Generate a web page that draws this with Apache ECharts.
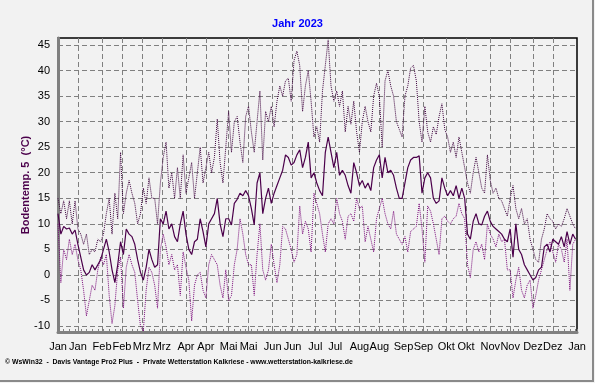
<!DOCTYPE html>
<html><head><meta charset="utf-8">
<script src="https://cdn.jsdelivr.net/npm/echarts@6/dist/echarts.min.js"></script>
<style>html,body{margin:0;padding:0;background:#f2f2f2}#c{width:595px;height:383px}</style>
</head><body><div id="c"></div><script>
// Day-of-year tick positions (1st and 15th of each month) and their labels
const tickDays = [0,14,31,45,59,73,90,104,120,134,151,165,181,195,212,226,243,257,273,287,304,318,334,348,365];
const tickLabels = ['Jan','Jan','Feb','Feb','Mrz','Mrz','Apr','Apr','Mai','Mai','Jun','Jun','Jul','Jul','Aug','Aug','Sep','Sep','Okt','Okt','Nov','Nov','Dez','Dez','Jan'];

// Values read every second day (day 0, 2, 4, ... 364)
const meanTemp = [
 12, 8, 9.5, 9, 9.2, 8, 8.8, 6, 3.5, 1,
 0, 0.5, 2, 1, 2, 3, 5, 7, 4.5, 1,
 -1.5, 2, 6.5, 4, 9, 8, 7.5, 6, 3, 0.5,
 -1, 1.5, 5, 3, 1.5, 2, 11, 10, 12.5, 9,
 10, 7.5, 6.5, 10, 12.5, 8, 5, 4, 6.5, 7,
 11, 8.5, 5.5, 10, 11, 12, 15, 10, 7.5, 11,
 11, 9.8, 14, 14.8, 16, 15.5, 16.5, 15.5, 13, 9.8,
 18, 20, 12, 15, 17, 14, 16, 17.5, 19, 20.5,
 23.5, 23, 21.5, 22, 23.5, 24.5, 21, 23, 26, 19,
 20, 18, 16.5, 15.5, 24, 27, 24, 21, 24, 19.5,
 20.5, 19.5, 17.5, 16, 22, 20, 17.5, 18.5, 17, 18,
 16.5, 21, 22.5, 23.5, 19, 23, 20, 20.5, 19.5, 17,
 15, 15, 18, 21, 22.5, 23, 23, 23.3, 16, 19,
 20, 19, 15, 14, 14.5, 19, 17, 15.5, 16.5, 15.5,
 17.5, 15, 17, 15, 8, 7, 10.5, 12, 10, 9.8,
 11.5, 12.5, 10.5, 9.5, 9, 8.5, 8, 7, 6.5, 9,
 3.5, 10, 5, 4, 2, 1, 0, -1, -0.5, 1,
 1.5, 5.5, 6, 4.5, 7, 6.5, 6, 7.5, 5.5, 8.5,
 6, 8, 7
];
const maxTemp = [
 15, 12, 14.5, 11, 14.5, 10, 14.5, 9, 8, 6,
 8, 4, 5, 4.5, 7, 6.5, 8, 12, 15, 8,
 16, 11, 24, 12, 16, 18.5, 16, 14, 10, 12,
 17, 14, 19, 15, 15, 10, 18, 23, 26, 17,
 20, 15, 21, 15, 23.5, 16, 19, 22, 15, 20,
 25, 18, 21, 24, 20, 23, 30.5, 22, 18, 25,
 32, 24, 30, 31, 26, 22, 31, 33, 28, 24,
 30, 36, 22.5, 32, 30, 33, 29, 34, 37, 35,
 38, 38.5, 34, 42, 43.8, 41, 32, 37, 40, 34,
 27, 29, 26, 36, 41, 46, 37, 34, 36, 33,
 36, 28, 33, 29.5, 34, 28, 24, 30, 33, 30,
 28, 35, 37.5, 35, 25, 38, 40, 37, 35, 30,
 28.5, 27, 35, 37, 40.5, 41, 38, 30, 26, 33,
 28, 26, 29, 27.5, 31, 33.5, 28.5, 27, 24, 26,
 23, 27, 24, 21, 18, 16, 20, 23, 20, 17,
 16, 23.5, 18.5, 16, 17, 15, 14.5, 13, 11.5, 15,
 17.5, 13, 11, 13, 10, 11, 7, 5, 3, 2.5,
 7, 9, 12, 11, 10.5, 9, 10, 9.5, 11, 13,
 11.5, 10, 9
];
const minTemp = [
 10, -1.5, 5, 3, 7, 4, 6, 3, 1, -3,
 -8, -5, -2, -3, 1, 3.5, 2, 4, -4, -9.5,
 -6, 1, 3.5, -6.5, 1.5, 4, 2, 0.5, -5, -10,
 -11, -3, 1.5, 0.5, -2, -6.5, 5, 8, 5.5, 2,
 4, 1, 2, -4, 4.5, 1.5, -1, -9, -2, 0,
 0.5, -3, -4.5, 2, 4, 3, 2, -2, -4.5, 1,
 -5, -4, 2, 5, 11, 8, 4, 2, 2, -4,
 4, 10, 1, -1, 1, 6, 2, -1.5, 2, 9.5,
 9, 7, 5, 2.5, 4, 13.5, 8, 10.5, 9, 4.5,
 16, 14, 12, 8, 4.5, 10, 11, 10, 15, 12,
 10.5, 7, 11.5, 12, 10.5, 15, 13, 13.5, 6.5, 9.5,
 7, 4.5, 11, 13, 15, 12, 10, 9, 12.5, 8,
 7, 6, 7.5, 4.5, 8.5, 9, 9.5, 14, 9, 2.5,
 13.5, 12.5, 10, 7, 4, 11, 11.5, 10.5, 10, 11,
 11.5, 14, 12, 11, 2, -0.5, 5, 6.5, 4.5, 6,
 3, 10, 8, 7, 5.5, 8, 6.5, 7, 1, 1,
 -4.5, -1, 1.5, -3, -4.5, -2, -1, -6.5, -4, -1,
 1, 3, 5, 6.5, 4.5, 2.5, 6, 5, 2.5, 7,
 -3, 6, 7
];

const FONT = '"Liberation Sans", Arial, sans-serif';
const cats = []; for (let i = 0; i <= 365; i++) cats.push(String(i));
const labelOf = {}; tickDays.forEach((d, k) => { labelOf[d] = tickLabels[k]; });
const sampleDays = meanTemp.map((_, k) => k * 2);
const pairs = arr => sampleDays.map((d, k) => [d, arr[k]]);

const chart = echarts.init(document.getElementById('c'));
chart.setOption({
  backgroundColor: '#f2f2f2',
  animation: false,
  title: { text: 'Jahr 2023', left: 'center', top: 13,
    textStyle: { color: '#0000ff', fontSize: 11, fontWeight: 'bold', fontFamily: FONT } },
  grid: [
    { left: 58, right: 18, top: 38, bottom: 51, show: true, borderColor: '#000', borderWidth: 1.5, backgroundColor: 'transparent' },
    { left: 58, right: 18, top: 45, bottom: 57 }
  ],
  xAxis: [
    { type: 'category', gridIndex: 0, data: cats, boundaryGap: false,
      axisLine: { onZero: false, lineStyle: { color: '#808080', width: 3 } },
      axisTick: { inside: true, length: 3, interval: (i) => (i in labelOf) || i % 4 === 0, lineStyle: { color: '#808080' } },
      axisLabel: { interval: (i) => (i in labelOf), formatter: (v) => labelOf[Number(v)] || '', color: '#000', fontSize: 11, margin: 9, fontFamily: FONT },
      splitLine: { show: true, interval: (i) => (i in labelOf) && i > 0 && i < 365, lineStyle: { color: '#808080', type: [5, 3], width: 1 } } },
    { type: 'value', gridIndex: 1, show: false, min: 0, max: 1 }
  ],
  yAxis: [
    { type: 'value', gridIndex: 0, min: -11.16, max: 46.37,
      axisLine: { show: true, onZero: false, lineStyle: { color: '#808080', width: 3 } },
      axisTick: { show: false }, axisLabel: { show: false }, splitLine: { show: false } },
    { type: 'value', gridIndex: 1, min: -10, max: 45, interval: 5,
      axisLine: { show: false },
      axisTick: { show: true, inside: true, length: 4, lineStyle: { color: '#808080' } },
      minorTick: { show: true, splitNumber: 2, length: 2, lineStyle: { color: '#808080' } },
      axisLabel: { color: '#000', fontSize: 11, margin: 8, fontFamily: FONT },
      splitLine: { show: true, lineStyle: { color: '#808080', type: [5, 3], width: 1 } } }
  ],
  series: [
    { name: 'Max', type: 'line', xAxisIndex: 0, yAxisIndex: 0, data: pairs(maxTemp), symbol: 'none',
      lineStyle: { color: '#3c003c', width: 1, type: [1, 1] }, z: 3 },
    { name: 'Min', type: 'line', xAxisIndex: 0, yAxisIndex: 0, data: pairs(minTemp), symbol: 'none',
      lineStyle: { color: '#7a0a7a', width: 1, type: [1, 1] }, z: 3 },
    { name: 'Mittel', type: 'line', xAxisIndex: 0, yAxisIndex: 0, data: pairs(meanTemp), symbol: 'none',
      lineStyle: { color: '#4b004b', width: 1.2 }, z: 4 },
    { type: 'line', xAxisIndex: 1, yAxisIndex: 1, data: [], silent: true }
  ],
  graphic: [
    { type: 'text', x: 26, y: 185, rotation: Math.PI / 2,
      style: { text: 'Bodentemp. 5  (°C)', fill: '#4b004b', font: 'bold 11px ' + FONT, align: 'center', verticalAlign: 'middle', textAlign: 'center', textVerticalAlign: 'middle' } },
    { type: 'text', x: 5, y: 362,
      style: { text: '© WsWin32  -  Davis Vantage Pro2 Plus  -  Private Wetterstation Kalkriese - www.wetterstation-kalkriese.de', fill: '#000', font: 'bold 6.9px ' + FONT, verticalAlign: 'middle', textVerticalAlign: 'middle' } },
    { type: 'line', shape: { x1: 593, y1: 0, x2: 593, y2: 382 }, style: { stroke: '#8a8a8a', lineWidth: 2 } },
    { type: 'line', shape: { x1: 0, y1: 381, x2: 594, y2: 381 }, style: { stroke: '#8a8a8a', lineWidth: 2 } }
  ]
});
</script></body></html>
